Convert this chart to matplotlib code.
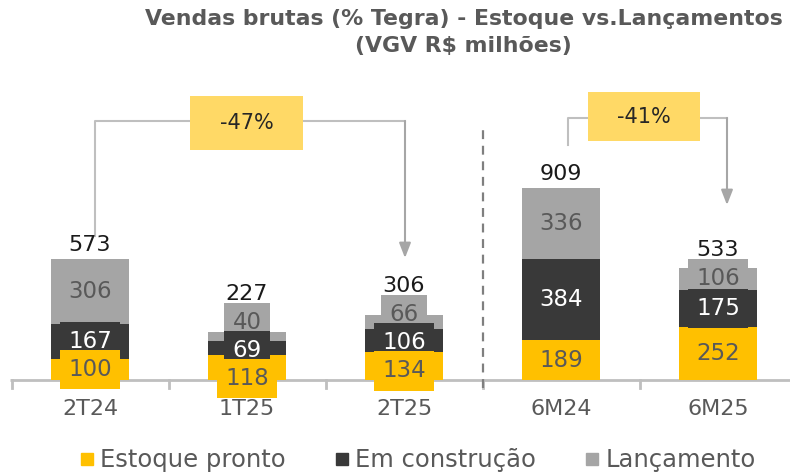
import matplotlib.pyplot as plt
from matplotlib.lines import Line2D
from matplotlib.patches import Rectangle

# data
categories = ["2T24", "1T25", "2T25", "6M24", "6M25"]
estoque_pronto = [100, 118, 134, 189, 252]
em_construcao = [167, 69, 106, 384, 175]
lancamento = [306, 40, 66, 336, 106]
totals = [573, 227, 306, 909, 533]
variations = ["-47%", "-41%"]
series_names = ["Estoque pronto", "Em construção", "Lançamento"]

YELLOW = "#FFC000"
DARK = "#393939"
GREY = "#A5A5A5"
BOX = "#FFD966"
TXT = "#595959"
LINE = "#BFBFBF"

PX = 4.74      # data units per pixel (vertical)
XS = 157.0     # pixels per category

plt.rcParams["font.family"] = ["DejaVu Sans"]

fig = plt.figure(figsize=(7.9, 4.73), dpi=100)
ax = fig.add_axes([0, 0, 1, 1])
ax.set_xlim(-90 / XS, 700 / XS)
ax.set_ylim(-93 * PX, 380 * PX)
ax.axis("off")


def px_y(p):
    # pixel row (from top) -> data y
    return (380 - p) * PX


def px_x(p):
    return (p - 90) / XS


x = list(range(len(categories)))
series = [estoque_pronto, em_construcao, lancamento]
colors = [YELLOW, DARK, GREY]
label_colors = [TXT, "white", TXT]

# stacked bars
bottoms = [0] * len(x)
for vals, col in zip(series, colors):
    ax.bar(x, vals, width=0.5, bottom=bottoms, color=col, zorder=2)
    bottoms = [b + v for b, v in zip(bottoms, vals)]


# segment labels, pushed apart when segments are too thin
def spread(centers, gap):
    ys = list(centers)
    for _ in range(60):
        for k in range(len(ys) - 1):
            d = ys[k + 1] - ys[k]
            if d < gap:
                s = (gap - d) / 2
                ys[k] -= s
                ys[k + 1] += s
    return ys


top_label = []
for i in x:
    base = 0
    centers = []
    for vals in series:
        centers.append(base + vals[i] / 2)
        base += vals[i]
    ys = spread(centers, 28 * PX)
    top_label.append(ys[-1])
    for k, (vals, col, tc) in enumerate(zip(series, colors, label_colors)):
        ax.text(i, ys[k], str(vals[i]), ha="center", va="center", fontsize=16.5,
                color="none", zorder=3.3 - k * 0.1,
                bbox=dict(boxstyle="square,pad=0.36", fc=col, ec="none"))
        ax.text(i, ys[k], str(vals[i]), ha="center", va="center", fontsize=16.5,
                color=tc, zorder=5)

# totals, kept above the highest label box
for i, t, yl in zip(x, totals, top_label):
    y = max(t, yl + 15 * PX)
    ax.text(i, y + 4 * PX, str(t), ha="center", va="bottom", fontsize=16,
            color="#1a1a1a", zorder=5)

# category axis
ax.plot([px_x(10), px_x(790)], [0, 0], color=LINE, lw=2, zorder=1,
        solid_capstyle="butt")
for tx in [-0.5, 0.5, 1.5, 2.5, 3.5]:
    ax.plot([tx, tx], [0, -8 * PX], color=LINE, lw=2, zorder=1)
for i, c in zip(x, categories):
    ax.text(i, px_y(409), c, ha="center", va="center", fontsize=16, color=TXT)

# separator between quarters and semesters
ax.plot([2.5, 2.5], [px_y(388), px_y(128)], color="#7F7F7F", lw=1.6,
        linestyle=(0, (4, 3)), zorder=1)

# variation brackets
arrow_kw = dict(arrowstyle="-|>,head_length=0.9,head_width=0.35",
                color="#A6A6A6", lw=1.5, shrinkA=0, shrinkB=0)

# 2T24 -> 2T25
ax.plot([px_x(95), px_x(95), px_x(405)], [px_y(236), px_y(121), px_y(121)],
        color=LINE, lw=1.5, zorder=1)
ax.annotate("", xy=(px_x(405), px_y(258)), xytext=(px_x(405), px_y(121)),
            arrowprops=arrow_kw, zorder=1)
ax.add_patch(Rectangle((px_x(190), px_y(150)), 113 / XS, 54 * PX,
                       fc=BOX, ec="none", zorder=3))
ax.text(px_x(247), px_y(123), variations[0], ha="center", va="center",
        fontsize=15, color="#262626", zorder=5)

# 6M24 -> 6M25
ax.plot([px_x(568), px_x(568), px_x(727)], [px_y(145), px_y(118), px_y(118)],
        color=LINE, lw=1.5, zorder=1)
ax.annotate("", xy=(px_x(727), px_y(205)), xytext=(px_x(727), px_y(118)),
            arrowprops=arrow_kw, zorder=1)
ax.add_patch(Rectangle((px_x(588), px_y(141)), 112 / XS, 49 * PX,
                       fc=BOX, ec="none", zorder=3))
ax.text(px_x(644), px_y(117), variations[1], ha="center", va="center",
        fontsize=15, color="#262626", zorder=5)

# title
fig.text(0.587, 1 - 9 / 473,
         "Vendas brutas (% Tegra) - Estoque vs.Lançamentos\n(VGV R$ milhões)",
         ha="center", va="top", fontsize=15.8, fontweight="bold", color=TXT,
         linespacing=1.45)

# legend
handles = [Line2D([], [], marker="s", ls="none", color=c, markersize=9)
           for c in colors]
fig.legend(handles, series_names, loc="center", bbox_to_anchor=(0.527, 0.027),
           ncol=3, frameon=False, fontsize=17.5, labelcolor=TXT,
           handletextpad=0.15, columnspacing=1.9, handlelength=0.8,
           borderaxespad=0, borderpad=0)

fig.savefig("out.png", dpi=100, facecolor="white")
